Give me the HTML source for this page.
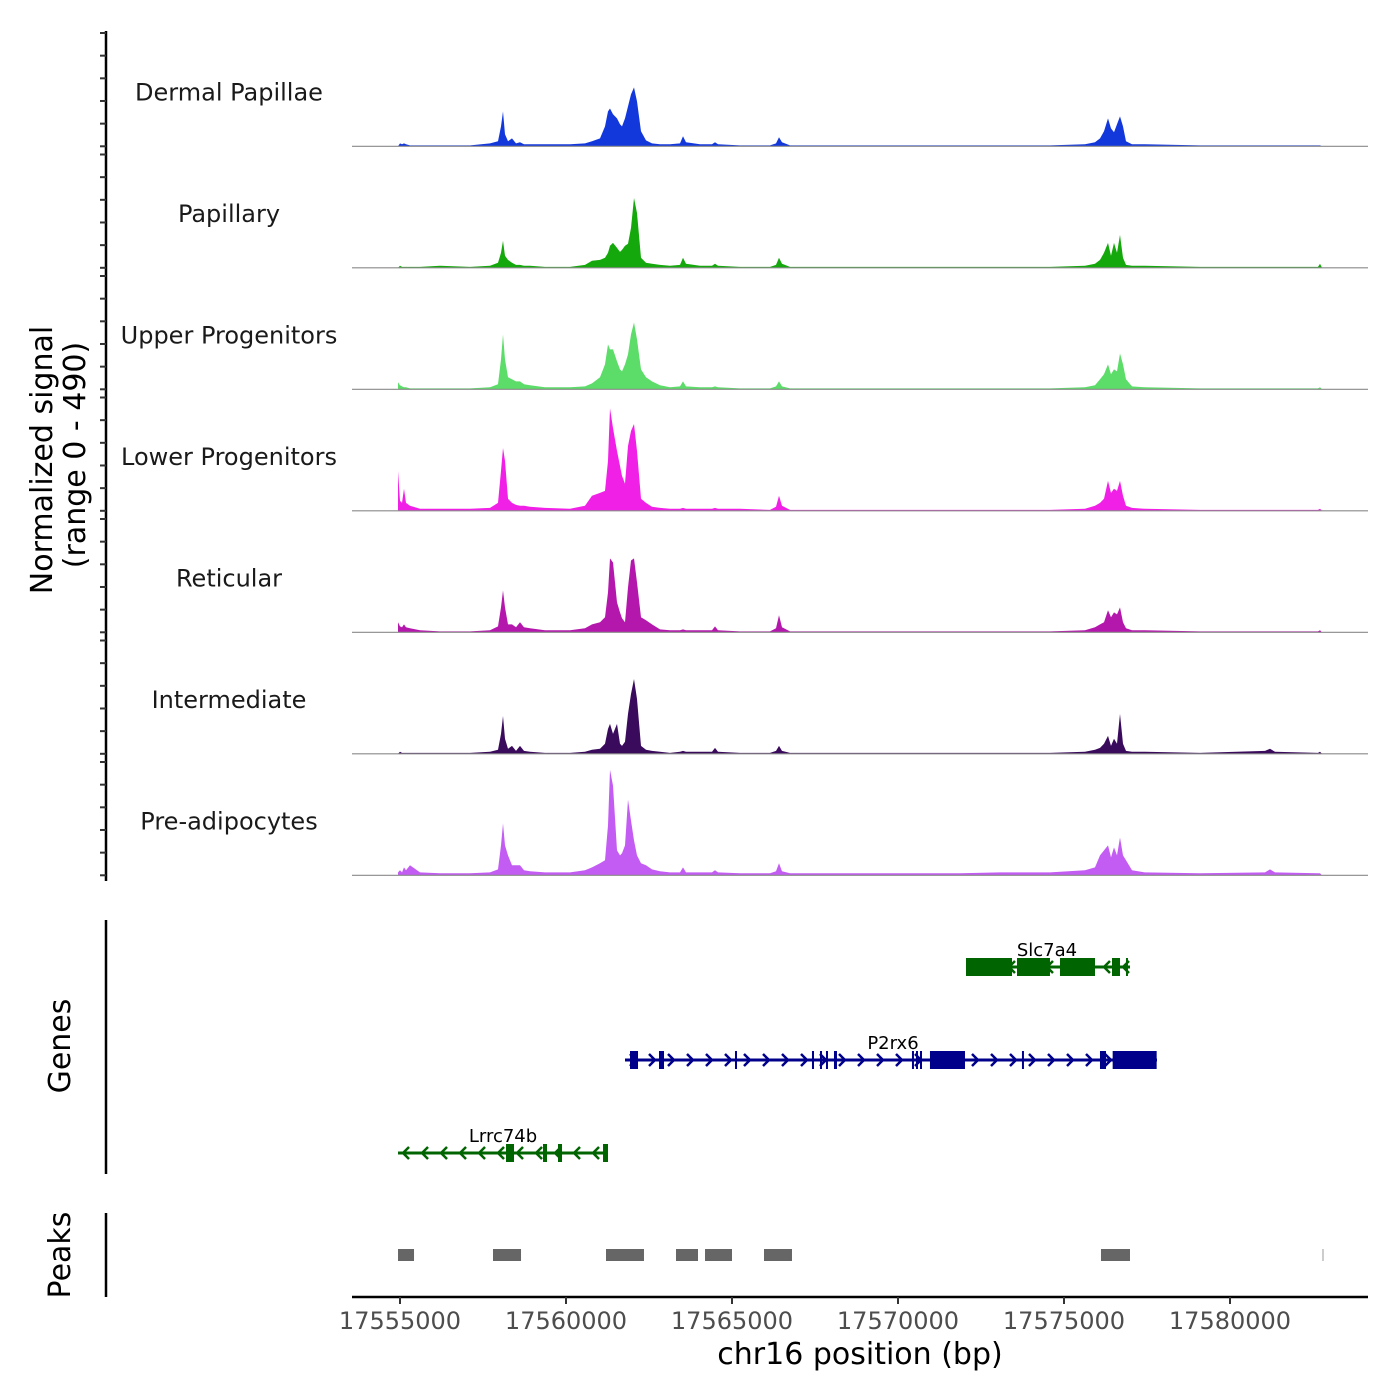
<!DOCTYPE html>
<html><head><meta charset="utf-8"><style>
html,body{margin:0;padding:0;background:#fff;}
svg{display:block;font-family:"DejaVu Sans","Liberation Sans",sans-serif;}
</style></head><body>
<svg id="chart" width="1400" height="1400" viewBox="0 0 1400 1400" xmlns="http://www.w3.org/2000/svg">
<g id="tracks"></g>
<g id="yaxis"></g>
<text transform="translate(52,460) rotate(-90)" text-anchor="middle" font-size="30" fill="#000">Normalized signal</text>
<text transform="translate(85,455) rotate(-90)" text-anchor="middle" font-size="30" fill="#000">(range 0 - 490)</text>
<line x1="106" y1="920" x2="106" y2="1174" stroke="#000" stroke-width="2.5"/>
<text transform="translate(70,1046) rotate(-90)" text-anchor="middle" font-size="30">Genes</text>
<g id="genes"></g>
<line x1="106" y1="1213" x2="106" y2="1297" stroke="#000" stroke-width="2.5"/>
<text transform="translate(70,1255) rotate(-90)" text-anchor="middle" font-size="30">Peaks</text>
<g id="peaks"></g>
<g id="xaxis"></g>
<text x="860" y="1364" text-anchor="middle" font-size="30">chr16 position (bp)</text>
</svg>
<script>
const positions=[17554940,17555000,17555060,17555120,17555181,17555301,17555602,17556205,17557108,17557711,17557952,17558042,17558102,17558163,17558253,17558373,17558494,17558614,17558735,17558916,17559367,17560120,17560572,17560783,17561024,17561175,17561265,17561325,17561416,17561536,17561627,17561687,17561777,17561867,17561958,17562048,17562139,17562259,17562410,17562590,17562831,17563133,17563434,17563524,17563614,17564036,17564398,17564488,17564578,17565241,17566145,17566325,17566416,17566506,17566747,17568554,17570361,17571867,17573072,17574578,17575633,17575934,17576084,17576205,17576325,17576416,17576506,17576596,17576687,17576777,17576867,17577048,17577440,17579096,17581054,17581205,17581355,17582650,17582711,17582771];
const trackNames=["Dermal Papillae","Papillary","Upper Progenitors","Lower Progenitors","Reticular","Intermediate","Pre-adipocytes"];
const trackColors=["#1238dc","#15a80c","#5cdc68","#f020e6","#b417ac","#3a0a5c","#c35cf2"];
const dermalPapillae=[0,13,9,13,9,4,4,4,4,13,22,88,154,53,22,35,13,18,9,9,9,9,13,22,35,88,154,167,141,123,97,88,123,176,229,260,198,66,26,13,9,9,13,44,18,9,9,18,9,4,4,13,40,18,4,4,4,4,4,4,9,18,35,66,123,79,62,97,132,88,22,9,9,4,4,4,4,4,4,0];
const papillary=[0,9,4,4,4,4,4,9,4,9,22,66,119,53,35,22,13,13,9,9,4,4,13,31,35,44,66,97,110,88,70,79,97,106,176,308,242,44,22,18,13,9,13,44,18,9,9,18,9,4,4,13,44,18,4,4,4,4,4,4,9,18,35,66,110,53,110,66,145,44,13,9,9,4,4,4,4,4,18,0];
const upperProgenitors=[31,18,13,9,9,4,4,4,4,9,22,132,242,132,53,44,35,35,22,18,9,9,13,26,53,110,198,176,176,123,88,79,110,154,242,295,220,88,53,35,18,9,13,35,13,9,9,13,9,4,4,13,35,13,4,4,4,4,4,4,9,18,44,66,110,66,88,79,158,110,44,13,9,4,4,4,4,4,9,0];
const lowerProgenitors=[176,44,35,97,35,22,9,9,9,13,35,176,277,220,53,35,26,22,22,18,13,9,22,66,79,88,220,453,365,264,198,154,119,286,352,383,264,53,35,18,13,9,9,13,9,9,9,13,9,9,4,18,66,22,4,4,4,4,4,4,9,22,35,53,132,79,97,88,132,66,22,13,9,4,4,4,4,4,9,0];
const reticular=[44,26,22,35,22,18,9,4,4,9,26,110,185,110,35,35,22,44,22,18,9,9,18,35,44,66,176,326,308,132,88,62,44,198,317,326,220,66,53,35,13,9,9,13,9,9,9,26,9,4,4,18,75,22,4,4,4,4,4,4,9,22,35,44,97,66,88,79,110,44,18,9,9,4,4,4,4,4,9,0];
const intermediate=[0,9,4,4,4,4,4,4,4,9,18,88,167,66,22,35,13,35,13,9,4,4,9,18,22,44,110,132,88,132,44,35,53,176,264,330,242,35,18,13,9,4,9,13,9,9,9,26,9,4,4,13,35,13,4,4,4,4,4,4,9,18,26,44,79,35,66,44,176,44,13,9,9,4,13,22,9,4,9,0];
const preAdipocytes=[13,22,13,35,22,44,13,9,9,13,26,132,229,132,88,44,44,44,22,18,13,13,22,35,53,66,220,466,396,110,88,97,132,334,242,154,88,53,44,26,18,13,13,35,13,13,13,22,13,9,9,18,53,18,9,9,9,9,13,13,22,35,88,110,132,79,123,88,167,88,66,22,13,9,13,26,13,9,9,0];
const xTicks=[17555000,17560000,17565000,17570000,17575000,17580000];
const peakStarts=[17554940,17557801,17561205,17563313,17564187,17565964,17576114,17582771];
const peakEnds=[17555422,17558645,17562349,17563976,17565000,17566807,17576988,17582831];
const geneNames=["Slc7a4","P2rx6","Lrrc74b"];
const geneStrands=[-1,1,-1];
const geneStarts=[17572048,17561777,17554940];
const geneEnds=[17576988,17577801,17561265];
const slc7a4Exons=[[17572048,17573434],[17573584,17574578],[17574879,17575934],[17576446,17576687],[17576867,17576927]];
const p2rx6Exons=[[17561928,17562169],[17562801,17562952],[17565090,17565120],[17567409,17567470],[17567650,17567711],[17567831,17567891],[17568072,17568162],[17570421,17570452],[17570542,17570572],[17570662,17570723],[17570963,17572018],[17573734,17573765],[17576084,17576265],[17576466,17577791]];
const lrrc74bExons=[[17558193,17558434],[17559307,17559428],[17559759,17559880],[17561115,17561265]];

const NS="http://www.w3.org/2000/svg";
function mk(tag,attrs,parent){const e=document.createElementNS(NS,tag);for(const k in attrs)e.setAttribute(k,attrs[k]);parent.appendChild(e);return e;}
const X0=17553554,X1=17584157,PX0=352,PX1=1368;
function xs(bp){return PX0+(bp-X0)/(X1-X0)*(PX1-PX0);}
const baselines=[146.3,267.8,389.3,510.8,632.3,753.8,875.3];
const unitPx=113.3/500;
function ys(v,i){return baselines[i]-v*unitPx;}
const series=[dermalPapillae,papillary,upperProgenitors,lowerProgenitors,reticular,intermediate,preAdipocytes];
const tracks=document.getElementById('tracks');
series.forEach((vals,i)=>{
  let d='M'+xs(positions[0]).toFixed(1)+','+baselines[i];
  vals.forEach((v,j)=>{d+=' L'+xs(positions[j]).toFixed(1)+','+ys(v,i).toFixed(1);});
  d+=' L'+xs(positions[positions.length-1]).toFixed(1)+','+baselines[i]+' Z';
  const p=mk('path',{d:d,fill:trackColors[i],stroke:'none'},tracks);
  
  
  const l=mk('line',{x1:PX0,x2:PX1,y1:baselines[i],y2:baselines[i],stroke:'#8a8a8a','stroke-width':1.2},tracks);
  
  
  const t=mk('text',{x:229,y:baselines[i]-46,'text-anchor':'middle','font-size':24,fill:'#1a1a1a'},tracks);
  t.textContent=trackNames[i];
  
  
});
const yax=document.getElementById('yaxis');
const al=mk('line',{x1:106,x2:106,y1:31,y2:881,stroke:'#000','stroke-width':2.5},yax);


baselines.forEach((b,i)=>{
  [0,100,200,300,400,500].forEach(v=>{
    const tk=mk('line',{x1:100,x2:106,y1:ys(v,i),y2:ys(v,i),stroke:'#333','stroke-width':2},yax);
    
    
  });
});
const xa=document.getElementById('xaxis');
const xl=mk('line',{x1:PX0,x2:PX1,y1:1297,y2:1297,stroke:'#000','stroke-width':2.5},xa);


xTicks.forEach(t=>{
  const tk=mk('line',{x1:xs(t),x2:xs(t),y1:1297,y2:1304,stroke:'#333','stroke-width':2},xa);
  
  
  const tl=mk('text',{x:xs(t),y:1329,'text-anchor':'middle','font-size':24,fill:'#4d4d4d'},xa);
  tl.textContent=t;
  
  
});
const pk=document.getElementById('peaks');
peakStarts.forEach((s,i)=>{
  const w=Math.max(xs(peakEnds[i])-xs(s),1.5);
  const r=mk('rect',{x:xs(s),y:1249,width:w,height:12,fill:i===peakStarts.length-1?'#cccccc':'#666666'},pk);
  
  
});
const gg=document.getElementById('genes');
const geneExons=[slc7a4Exons,p2rx6Exons,lrrc74bExons];
const geneY=[967,1060,1153];
const geneColors=['#006400','#00008b','#006400'];
geneNames.forEach((n,i)=>{
  const y=geneY[i],c=geneColors[i];
  const x1=xs(geneStarts[i]),x2=xs(geneEnds[i]);
  const ln=mk('line',{x1:x1,x2:x2,y1:y,y2:y,stroke:c,'stroke-width':3},gg);
  
  
  for(let x=x1+8;x<x2-4;x+=19){
    const s=geneStrands[i];
    const a=mk('polyline',{points:(x-3*s)+','+(y-6)+' '+(x+3*s)+','+y+' '+(x-3*s)+','+(y+6),fill:'none',stroke:c,'stroke-width':2.5},gg);
    
    
  }
  geneExons[i].forEach(e=>{
    const r=mk('rect',{x:xs(e[0]),y:y-9,width:Math.max(xs(e[1])-xs(e[0]),2),height:18,fill:c},gg);
    
    
  });
  const t=mk('text',{x:(x1+x2)/2+ (i===1?2:(i===0?-1:0)),y:y-11,'text-anchor':'middle','font-size':18,fill:'#000'},gg);
  t.textContent=n;
  
  
});
</script>
</body></html>
